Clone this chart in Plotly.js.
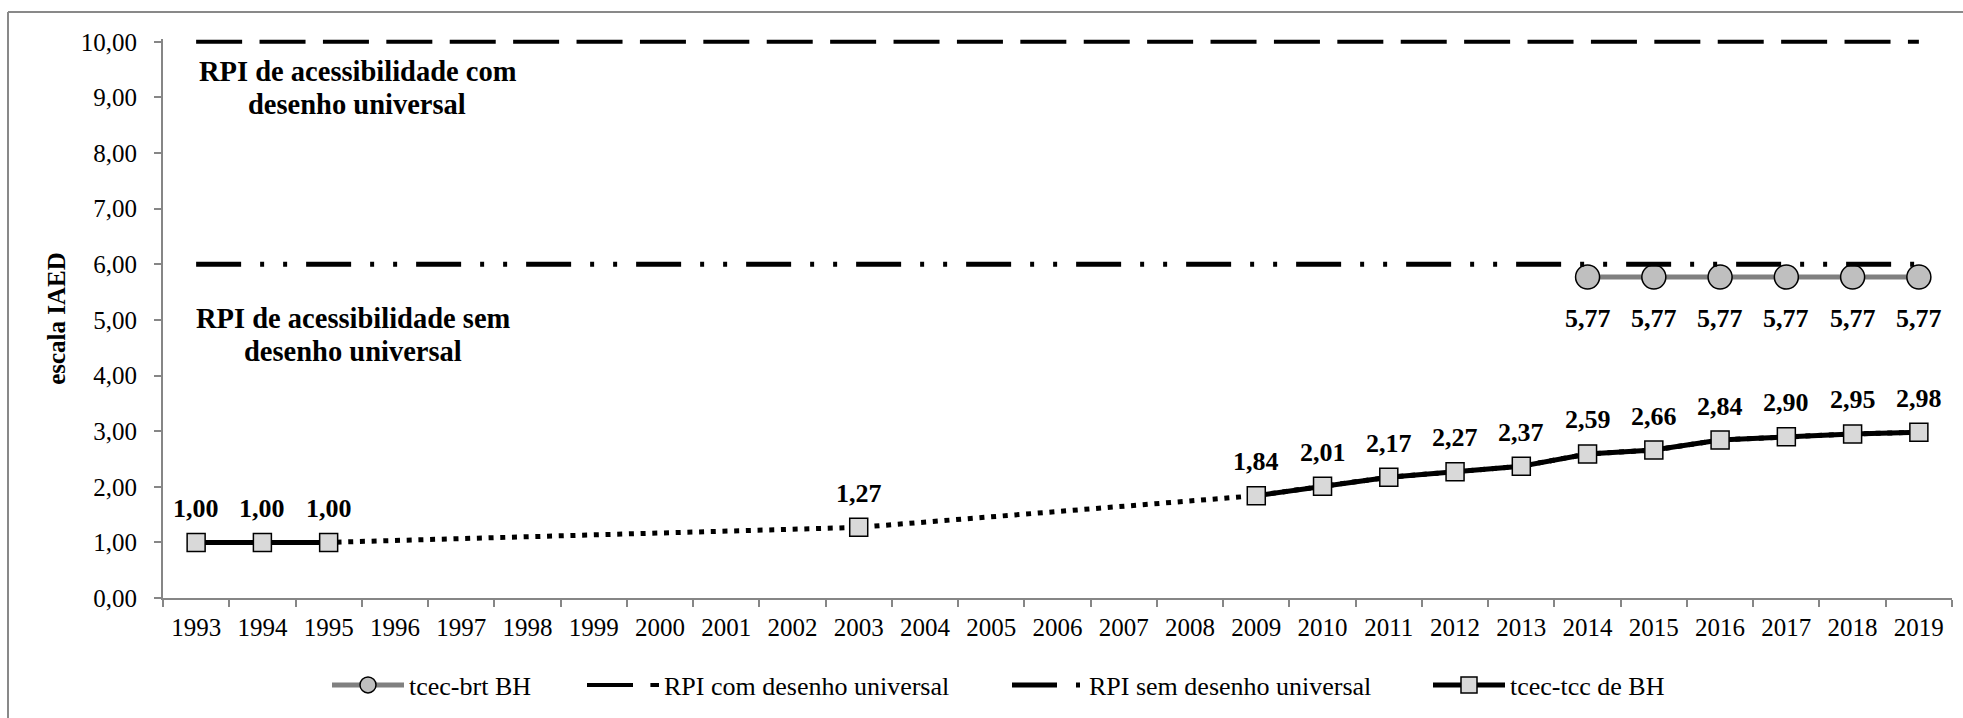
<!DOCTYPE html>
<html>
<head>
<meta charset="utf-8">
<script src="https://cdn.plot.ly/plotly-3.0.1.min.js"></script>
<style>html,body{margin:0;padding:0;background:#fff;}#chart{width:1963px;height:718px;}</style>
</head>
<body>
<div id="chart"></div>
<script>
// ---- data ----
const years = ['1993','1994','1995','1996','1997','1998','1999','2000','2001','2002','2003','2004','2005','2006','2007','2008','2009','2010','2011','2012','2013','2014','2015','2016','2017','2018','2019'];
const tccValues = [1.00,1.00,1.00,null,null,null,null,null,null,null,1.27,null,null,null,null,null,1.84,2.01,2.17,2.27,2.37,2.59,2.66,2.84,2.90,2.95,2.98];
const brtValues = [null,null,null,null,null,null,null,null,null,null,null,null,null,null,null,null,null,null,null,null,null,5.77,5.77,5.77,5.77,5.77,5.77];
const rpiComValues = [10,10,10,10,10,10,10,10,10,10,10,10,10,10,10,10,10,10,10,10,10,10,10,10,10,10,10];
const rpiSemValues = [6,6,6,6,6,6,6,6,6,6,6,6,6,6,6,6,6,6,6,6,6,6,6,6,6,6,6];
const seriesNames = ['tcec-brt BH','RPI com desenho universal','RPI sem desenho universal','tcec-tcc de BH'];
const yTitle = 'escala IAED';
const noteCom = ['RPI de acessibilidade com','desenho universal'];
const noteSem = ['RPI de acessibilidade sem','desenho universal'];

// ---- layout geometry ----
const W = 1963, H = 718;
const M = {l:163, r:11, t:39, b:119};
const plotW = W - M.l - M.r, plotH = H - M.t - M.b;
const px2x = px => (px - M.l) / plotW;
const px2y = py => (H - M.b - py) / plotH;

const serif = 'Liberation Serif';
const fmt = v => v.toFixed(2).replace('.', ',');

const traces = [
  { // dotted connector through missing years
    x: years, y: tccValues, type:'scatter', mode:'lines', connectgaps:true,
    line:{color:'#000', width:5, dash:'5px,6.7px'}, showlegend:false, hoverinfo:'skip'
  },
  {
    x: years, y: brtValues, type:'scatter', mode:'lines+markers', name: seriesNames[0],
    line:{color:'#808080', width:5},
    marker:{symbol:'circle', size:24, color:'#bfbfbf', line:{color:'#000', width:1.5}},
    legend:'legend', cliponaxis:false
  },
  {
    x: years, y: rpiComValues, type:'scatter', mode:'lines', name: seriesNames[1],
    line:{color:'#000', width:4, dash:'46px,17.4px'}, legend:'legend2', cliponaxis:false
  },
  {
    x: years, y: rpiSemValues, type:'scatter', mode:'lines', name: seriesNames[2],
    line:{color:'#000', width:5, dash:'45px,19px,4px,19px,4px,19px'}, legend:'legend3', cliponaxis:false
  },
  {
    x: years, y: tccValues, type:'scatter', mode:'lines+markers', name: seriesNames[3], connectgaps:false,
    line:{color:'#000', width:5},
    marker:{symbol:'square', size:18, color:'#d9d9d9', line:{color:'#000', width:1.5}},
    legend:'legend4', cliponaxis:false
  }
];

const labelFont = {family:serif, size:26, color:'#000', weight:'bold'};
const annotations = [];
years.forEach((yr, i) => {
  if (tccValues[i] !== null) annotations.push({x: i, y: tccValues[i], xref:'x', yref:'y', text: fmt(tccValues[i]),
    showarrow:false, yshift:34, xanchor:'center', yanchor:'middle', font:labelFont});
  if (brtValues[i] !== null) annotations.push({x: i, y: brtValues[i], xref:'x', yref:'y', text: fmt(brtValues[i]),
    showarrow:false, yshift:-41, xanchor:'center', yanchor:'middle', font:labelFont});
});
const noteFont = {family:serif, size:28.5, color:'#000', weight:'bold'};
annotations.push({xref:'paper', yref:'paper', x:px2x(358), y:px2y(72), text:noteCom[0], showarrow:false, font:noteFont, xanchor:'center', yanchor:'middle'});
annotations.push({xref:'paper', yref:'paper', x:px2x(357), y:px2y(105), text:noteCom[1], showarrow:false, font:noteFont, xanchor:'center', yanchor:'middle'});
annotations.push({xref:'paper', yref:'paper', x:px2x(353), y:px2y(319), text:noteSem[0], showarrow:false, font:noteFont, xanchor:'center', yanchor:'middle'});
annotations.push({xref:'paper', yref:'paper', x:px2x(353), y:px2y(352), text:noteSem[1], showarrow:false, font:noteFont, xanchor:'center', yanchor:'middle'});

const legBase = {orientation:'h', yanchor:'middle', xanchor:'left', y:px2y(685), bgcolor:'rgba(0,0,0,0)', borderwidth:0,
  itemwidth:72, font:{family:serif, size:26, color:'#000'}, itemclick:false, itemdoubleclick:false};

const layout = {
  width: W, height: H, autosize:false,
  margin: M,
  paper_bgcolor:'#fff', plot_bgcolor:'#fff',
  separators: ',.',
  showlegend: true,
  font:{family:serif, color:'#000'},
  xaxis: {
    type:'category', categoryorder:'array', categoryarray: years, range:[-0.5, 26.5],
    showgrid:false, zeroline:false, showline:true, linecolor:'#868686', linewidth:2,
    ticks:'outside', tickson:'boundaries', ticklen:7, tickwidth:2, tickcolor:'#868686',
    tickfont:{family:serif, size:25, color:'#000'}, ticklabelstandoff:6, fixedrange:true
  },
  yaxis: {
    range:[0, 10.05], dtick:1, tick0:0, tickformat:'.2f',
    showgrid:false, zeroline:false, showline:true, linecolor:'#868686', linewidth:2,
    ticks:'outside', ticklen:7, tickwidth:2, tickcolor:'#868686',
    tickfont:{family:serif, size:25, color:'#000'}, ticklabelstandoff:12,
    title:{text: yTitle, font:{family:serif, size:25, color:'#000', weight:'bold'}, standoff:8}, fixedrange:true
  },
  legend: Object.assign({}, legBase, {x:px2x(327)}),
  legend2: Object.assign({}, legBase, {x:px2x(582)}),
  legend3: Object.assign({}, legBase, {x:px2x(1007)}),
  legend4: Object.assign({}, legBase, {x:px2x(1428)}),
  annotations: annotations,
  shapes: [
    {type:'line', xref:'paper', yref:'paper', x0:px2x(8), x1:px2x(1975), y0:px2y(12), y1:px2y(12), line:{color:'#898989', width:2}},
    {type:'line', xref:'paper', yref:'paper', x0:px2x(8), x1:px2x(8), y0:px2y(12), y1:px2y(730), line:{color:'#898989', width:2}}
  ]
};

Plotly.newPlot('chart', traces, layout, {displayModeBar:false, staticPlot:true});
</script>
</body>
</html>
